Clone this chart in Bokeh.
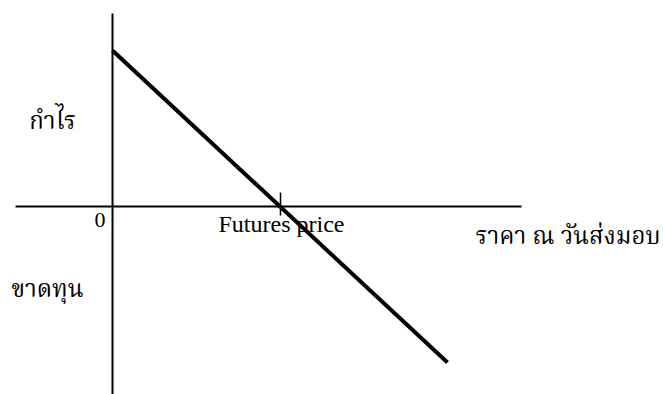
from bokeh.plotting import figure
from bokeh.models import Range1d
from bokeh.core.properties import value
from bokeh.embed import file_html
from bokeh.resources import INLINE

# Diagram data (origin = intersection of axes)
futures_price = [168]
payoff_x = [0, 335]
payoff_y = [156, -156]
h_axis_x = [-97, 409]
h_axis_y = [0, 0]
v_axis_x = [0, 0]
v_axis_y = [193, -190]
tick_y = [14, -9]

labels_thai = ["กำไร", "ขาดทุน", "ราคา ณ วันส่งมอบ"]
labels_latin = ["0", "Futures price"]

p = figure(width=663, height=394, x_range=Range1d(-112, 551), y_range=Range1d(-188, 206),
           output_backend="svg", toolbar_location=None, min_border=0,
           x_axis_location=None, y_axis_location=None)
p.grid.visible = False
p.outline_line_color = None
p.background_fill_color = "white"
p.border_fill_color = "white"

p.line(h_axis_x, h_axis_y, line_color="black", line_width=2)
p.line(v_axis_x, v_axis_y, line_color="black", line_width=2)
p.line([futures_price[0], futures_price[0]], tick_y, line_color="black", line_width=1.5)
p.line(payoff_x, payoff_y, line_color="black", line_width=4)

thai_font = value("Noto Serif Thai, Noto Sans Thai, Loma, Garuda, Noto Sans")
latin_font = value("Liberation Serif")

p.text(x=[-60], y=[84], text=[labels_thai[0]], text_font=thai_font, text_font_size="24px",
       text_align="center", text_baseline="middle", text_color="black")
p.text(x=[-65], y=[-84], text=[labels_thai[1]], text_font=thai_font, text_font_size="24px",
       text_align="center", text_baseline="middle", text_color="black")
p.text(x=[363], y=[-31], text=[labels_thai[2]], text_font=thai_font, text_font_size="24px",
       text_align="left", text_baseline="alphabetic", text_color="black")

p.text(x=[-7], y=[-13], text=[labels_latin[0]], text_font=latin_font, text_font_size="22px",
       text_align="right", text_baseline="alphabetic", text_color="black")
p.text(x=[106], y=[-17], text=[labels_latin[1]], text_font=latin_font, text_font_size="24px",
       text_align="left", text_baseline="alphabetic", text_color="black")

open("out.html", "w").write(file_html(p, INLINE))
